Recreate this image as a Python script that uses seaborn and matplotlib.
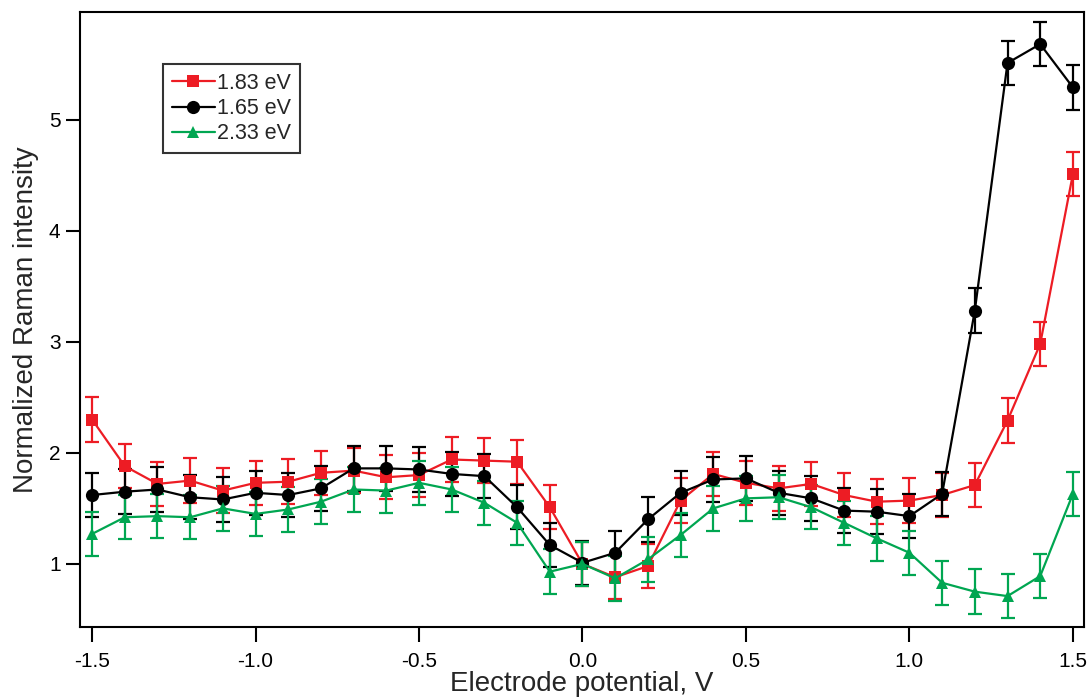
import numpy as np
import pandas as pd
import seaborn as sns
import matplotlib.pyplot as plt

# electrode potential (V)
potential = [-1.5, -1.4, -1.3, -1.2, -1.1, -1.0, -0.9, -0.8, -0.7, -0.6, -0.5,
             -0.4, -0.3, -0.2, -0.1, 0.0, 0.1, 0.2, 0.3, 0.4, 0.5,
             0.6, 0.7, 0.8, 0.9, 1.0, 1.1, 1.2, 1.3, 1.4, 1.5]

# normalized Raman intensity
red_183 = [2.30, 1.88, 1.72, 1.75, 1.66, 1.73, 1.74, 1.82, 1.84, 1.78, 1.80,
           1.94, 1.93, 1.92, 1.51, 1.00, 0.88, 0.98, 1.57, 1.81, 1.73,
           1.68, 1.72, 1.62, 1.56, 1.57, 1.62, 1.71, 2.29, 2.98, 4.51]
black_165 = [1.62, 1.65, 1.67, 1.60, 1.58, 1.64, 1.62, 1.68, 1.86, 1.86, 1.85,
             1.81, 1.79, 1.51, 1.17, 1.01, 1.10, 1.40, 1.64, 1.76, 1.77,
             1.64, 1.59, 1.48, 1.47, 1.43, 1.63, 3.28, 5.51, 5.68, 5.29]
green_233 = [1.27, 1.42, 1.43, 1.42, 1.50, 1.45, 1.49, 1.56, 1.67, 1.66, 1.73,
             1.67, 1.55, 1.37, 0.93, 1.00, 0.87, 1.04, 1.26, 1.50, 1.59,
             1.60, 1.51, 1.37, 1.23, 1.10, 0.83, 0.75, 0.71, 0.89, 1.63]
err = [0.2] * len(potential)

labels = ['1.83 eV', '1.65 eV', '2.33 eV']
colors = ['#ED1C24', '#000000', '#00A651']
markers = ['s', 'o', '^']

sns.set_theme(style="ticks")
plt.rcParams['font.family'] = ['Liberation Sans', 'DejaVu Sans']
plt.rcParams['axes.unicode_minus'] = False

fig = plt.figure(figsize=(10.9, 7), dpi=100)
ax = fig.add_axes([0.0734, 0.104, 0.9211, 0.879])

for vals, lab, col, mk in zip([red_183, black_165, green_233], labels, colors, markers):
    df = pd.DataFrame({'x': potential, 'y': vals})
    ax.errorbar(df['x'], df['y'], yerr=err, fmt='none', ecolor=col,
                elinewidth=1.6, capsize=5, capthick=1.6, zorder=2)
    sns.lineplot(data=df, x='x', y='y', ax=ax, color=col, marker=mk,
                 markersize=9 if mk != 'o' else 9.5, markeredgewidth=0,
                 linewidth=1.6, label=lab, errorbar=None, zorder=3)

ax.set_xlim(-1.537, 1.534)
ax.set_ylim(0.43, 5.97)
ax.set_xticks([-1.5, -1.0, -0.5, 0.0, 0.5, 1.0, 1.5])
ax.set_xticklabels(['-1.5', '-1.0', '-0.5', '0.0', '0.5', '1.0', '1.5'])
ax.set_yticks([1, 2, 3, 4, 5])
ax.tick_params(axis='x', direction='out', length=11, width=1.5, pad=7,
               labelsize=15, colors='black')
ax.tick_params(axis='y', direction='out', length=10, width=1.5, pad=4,
               labelsize=15, colors='black')
for s in ax.spines.values():
    s.set_linewidth(1.5)
    s.set_color('black')

ax.set_xlabel('Electrode potential, V', fontsize=20, labelpad=0)
ax.set_ylabel('Normalized Raman intensity', fontsize=20, labelpad=7)

leg = ax.legend(loc='upper left', bbox_to_anchor=(0.083, 0.915), fontsize=15.5,
                frameon=True, fancybox=False, handlelength=2.0,
                handletextpad=0.1, borderpad=0.4, labelspacing=0.2,
                borderaxespad=0)
leg.get_frame().set_edgecolor('black')
leg.get_frame().set_linewidth(1.5)

fig.savefig('out.png', dpi=100)
